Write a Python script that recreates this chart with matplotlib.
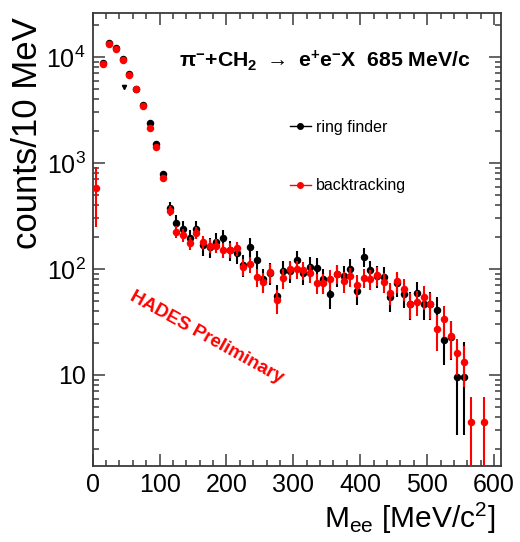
import matplotlib
matplotlib.use('Agg')
import matplotlib.pyplot as plt
from matplotlib.ticker import MultipleLocator, LogLocator, FixedLocator, FixedFormatter, NullFormatter
from matplotlib.lines import Line2D
import numpy as np

plt.rcParams['font.family'] = ['Liberation Sans', 'DejaVu Sans']
plt.rcParams['mathtext.default'] = 'regular'

# Dielectron invariant-mass spectra, 10 MeV bins (bin centres in MeV/c^2)
ring_x = [15, 25, 35, 45, 55, 65, 75, 85, 95, 105, 115, 125, 135, 145, 155,
          165, 175, 185, 195, 205, 215, 225, 235, 245, 255, 265, 275, 285,
          295, 305, 315, 325, 335, 345, 355, 365, 375, 385, 395, 405, 415,
          425, 435, 445, 455, 465, 475, 485, 495, 505, 515, 525, 535, 545, 555]
ring_counts = [8830, 13600, 12200, 9570, 6870, 5000, 3520, 2370, 1510, 787,
               374, 270, 237, 195, 237, 168, 162, 181, 195, 151, 141, 110,
               162, 122, 80, 92, 56, 96, 96, 122, 91, 105, 103, 80, 58, 89,
               86, 101, 62, 131, 98, 86, 84, 54, 73, 58, 47, 59, 47, 47, 41,
               21.4, 23, 9.6, 9.6]
ring_err_lo = [180, 230, 220, 195, 165, 140, 120, 97, 78, 56, 52, 50, 44, 38,
               44, 34, 34, 36, 38, 31, 30, 26, 34, 27, 20, 22, 14, 22, 22, 26,
               21, 24, 23, 20, 16, 21, 20, 23, 16, 27, 22, 20, 20, 15, 18, 15,
               14, 16, 14, 14, 13, 9, 9, 6.9, 6.9]
ring_err_hi = [180, 230, 220, 195, 165, 140, 120, 97, 78, 56, 52, 50, 44, 38,
               44, 34, 34, 36, 38, 31, 30, 26, 34, 27, 20, 22, 14, 22, 22, 26,
               21, 24, 23, 20, 16, 21, 20, 23, 16, 27, 22, 20, 20, 15, 18, 15,
               14, 16, 14, 14, 13, 9, 9, 11, 11]

back_x = [5, 15, 25, 35, 45, 55, 65, 75, 85, 95, 105, 115, 125, 135, 145, 155,
          165, 175, 185, 195, 205, 215, 225, 235, 245, 255, 265, 275, 285,
          295, 305, 315, 325, 335, 345, 355, 365, 375, 385, 395, 405, 415,
          425, 435, 445, 455, 465, 475, 485, 495, 505, 515, 525, 535, 545,
          555, 565, 585]
back_counts = [583, 8530, 13170, 12000, 9310, 6770, 4950, 3480, 2150, 1405,
               718, 355, 225, 209, 175, 220, 181, 166, 166, 151, 151, 157, 105,
               111, 84, 75, 93, 51, 82, 99, 99, 98, 91, 74, 74, 80, 90, 77, 85,
               71, 83, 80, 87, 75, 60, 77, 65, 47, 49, 55, 47, 27, 34, 23.3, 16,
               13.2, 3.6, 3.6]
back_err = [334, 180, 225, 215, 190, 160, 138, 117, 92, 74, 52, 37, 30, 28, 25,
            29, 26, 25, 25, 24, 24, 24, 20, 20, 17, 16, 19, 13, 17, 19, 19, 19,
            18, 16, 16, 17, 18, 17, 18, 16, 17, 17, 18, 16, 14, 17, 15, 13, 13,
            14, 13, 10, 11, 9, 6, 5.5, 2.6, 2.6]

# isolated small entry of the ring-finder histogram
stray_x = [47]
stray_counts = [5180]

y_tick_values = [10, 100, 1000, 10000]
y_tick_labels = ['10', '10$^{2}$', '10$^{3}$', '10$^{4}$']

W, H = 520, 542
fig = plt.figure(figsize=(W / 100, H / 100), dpi=100)
ax = fig.add_axes([92.7 / W, (H - 466) / H, 408 / W, 453.5 / H])
ax.set_yscale('log')

ax.errorbar(ring_x, ring_counts, yerr=[ring_err_lo, ring_err_hi], fmt='o',
            color='black', ms=5.4, mew=0, elinewidth=1.5, capsize=0, zorder=3)
ax.plot(stray_x, stray_counts, marker='v', ms=3, color='black', ls='none',
        zorder=3)
ax.errorbar(back_x, back_counts, yerr=back_err, fmt='o',
            color='red', ms=5.4, mew=0, elinewidth=1.5, capsize=0, zorder=4)

ax.set_xlim(0, 610)
ax.set_ylim(1.385, 26300)

ax.xaxis.set_major_locator(MultipleLocator(100))
ax.xaxis.set_minor_locator(MultipleLocator(20))
ax.yaxis.set_major_locator(FixedLocator(y_tick_values))
ax.yaxis.set_major_formatter(FixedFormatter(y_tick_labels))
ax.yaxis.set_minor_locator(LogLocator(base=10, subs=np.arange(2, 10), numticks=20))
ax.yaxis.set_minor_formatter(NullFormatter())

frame_color = '#3a3a3a'
for s in ax.spines.values():
    s.set_color(frame_color)
    s.set_linewidth(1.3)
ax.tick_params(which='both', direction='in', top=True, right=True,
               color=frame_color, width=1.1)
ax.tick_params(which='major', length=8.6, labelsize=18)
ax.tick_params(which='minor', length=4.5)
ax.tick_params(axis='x', which='major', pad=5)
ax.tick_params(axis='y', which='major', pad=5)

handles = [Line2D([], [], color='black', marker='o', ms=4, lw=1),
           Line2D([], [], color='red', marker='o', ms=4, lw=1)]
ax.legend(handles, ['ring finder', 'backtracking'], loc='upper left',
          bbox_to_anchor=(290 / W, 1 - 120 / H), bbox_transform=fig.transFigure,
          frameon=False, fontsize=11.5, handlelength=1.31, handletextpad=0.31,
          labelspacing=2.7, borderpad=0, borderaxespad=0)

fig.text(179 / W, 1 - 67 / H,
         r'$\pi^{-}$+CH$_{2}$ $\rightarrow$ e$^{+}$e$^{-}$X  685 MeV/c',
         fontsize=15.3, fontweight='bold', ha='left', va='baseline')
fig.text(207 / W, 1 - 337 / H, 'HADES Preliminary', color='red', fontsize=13.5,
         fontweight='bold', rotation=-29, ha='center', va='center',
         rotation_mode='anchor')
fig.text(27.5 / W, 1 - 133 / H, 'counts/10 MeV', rotation=90, fontsize=25,
         ha='center', va='center')
fig.text(495 / W, (H - 528) / H, r'M$_{ee}$ [MeV/c$^{2}$]', fontsize=21.5,
         ha='right', va='baseline')

fig.savefig('out.png', dpi=100)
